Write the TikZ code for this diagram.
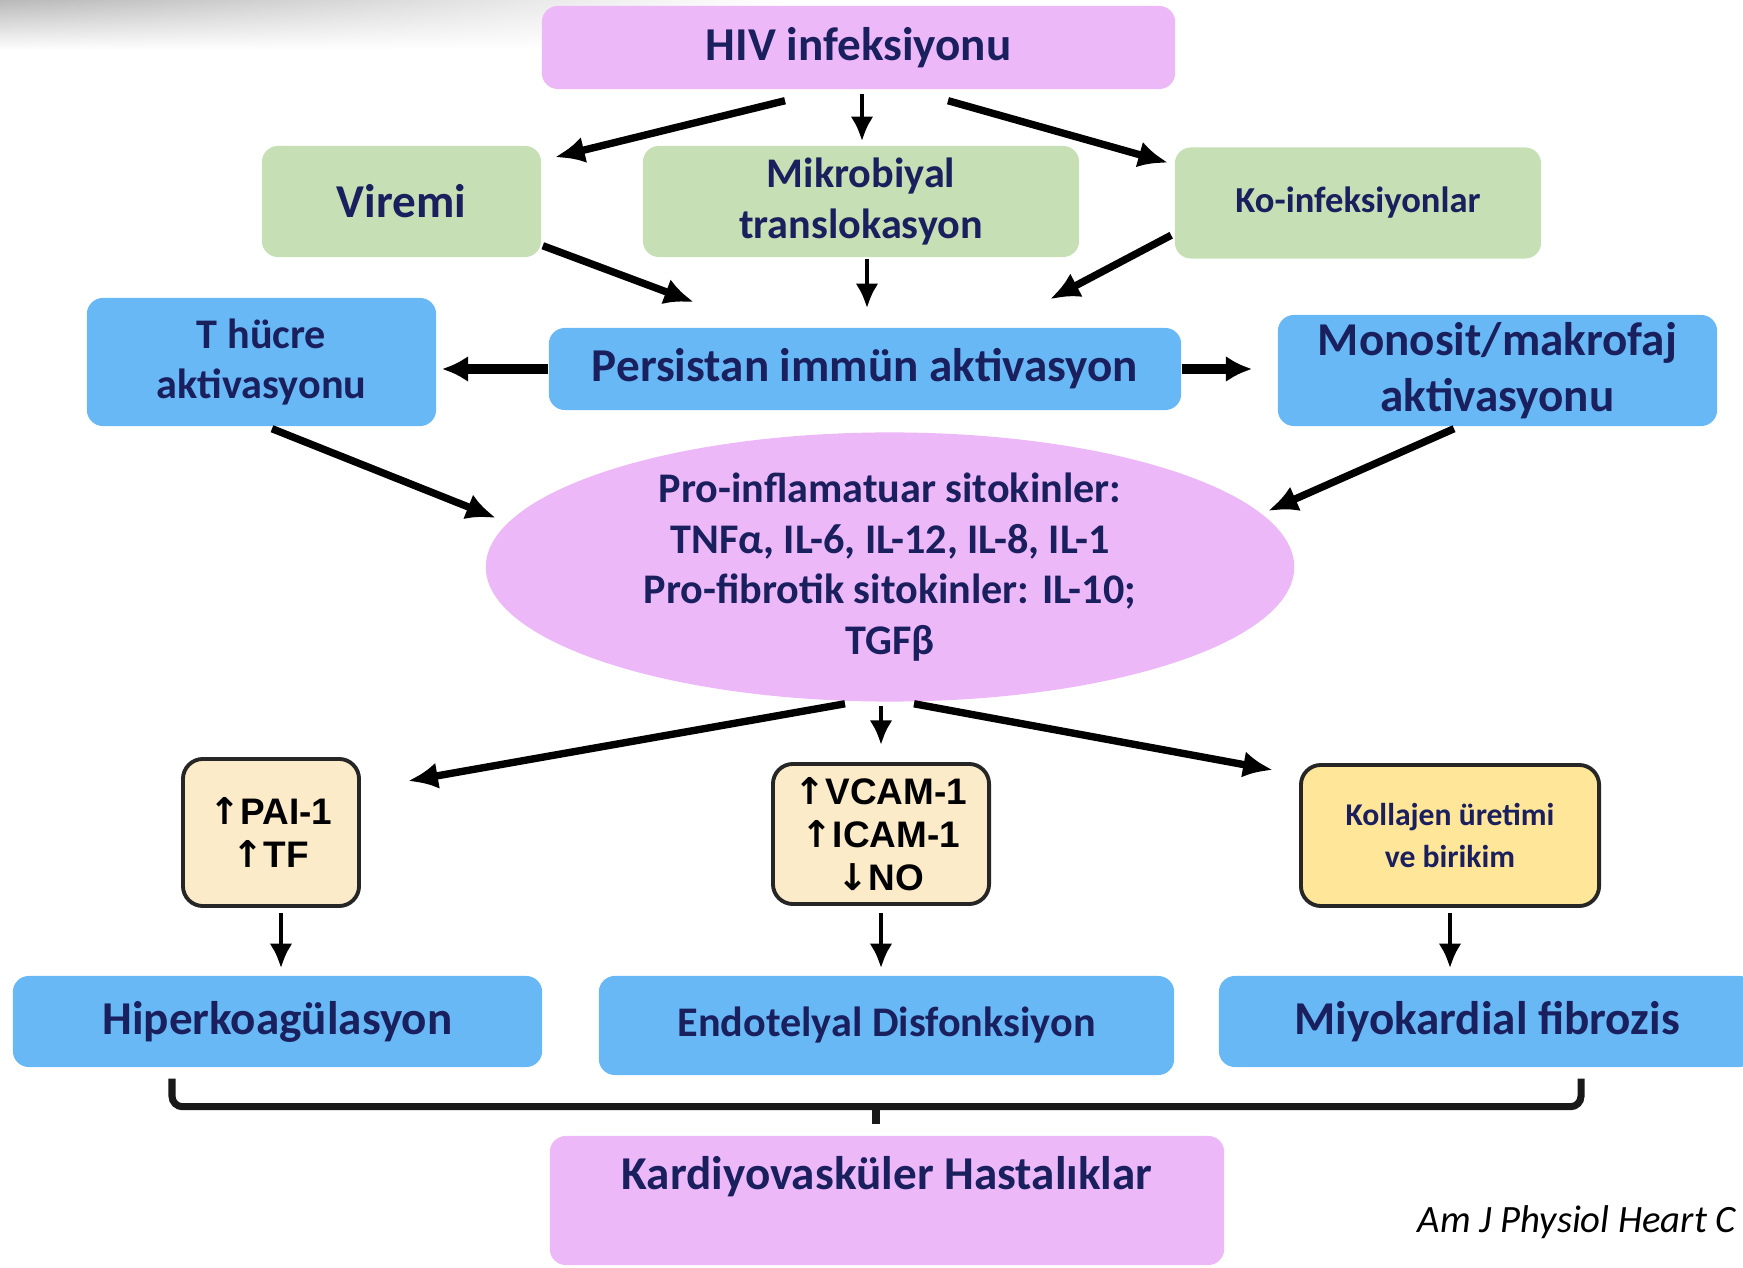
\documentclass[tikz,border=0pt]{standalone}
\usepackage{fontspec}
\setmainfont{Carlito}
\newfontfamily\arialfont{Liberation Sans}
\newfontfamily\arrowfont{DejaVu Sans}
\usetikzlibrary{arrows.meta, calc, shapes.geometric, fadings}
\definecolor{hivpink}{HTML}{EDB8F8}
\definecolor{leafgreen}{HTML}{C6DFB4}
\definecolor{skyblue}{HTML}{69B8F6}
\definecolor{navytext}{HTML}{1A1F5E}
\definecolor{creamfill}{HTML}{FCEBC8}
\definecolor{butter}{HTML}{FFE699}
\newcommand{\largelabel}{\fontsize{13.4pt}{15.8pt}\selectfont}
\newcommand{\mediumlabel}{\fontsize{12pt}{14.4pt}\selectfont}
\newcommand{\smalllabel}{\fontsize{10.4pt}{12.5pt}\selectfont}
\newcommand{\tinylabel}{\fontsize{9pt}{11.7pt}\selectfont}
\newcommand{\markerlabel}{\fontsize{10.5pt}{12.2pt}\selectfont}
\newcommand{\citelabel}{\fontsize{11pt}{13pt}\selectfont}
\tikzset{
    box/.style={rectangle, rounded corners=0.16cm, inner sep=0pt, align=center, text=navytext},
    pinkbox/.style={box, fill=hivpink},
    greenbox/.style={box, fill=leafgreen},
    bluebox/.style={box, fill=skyblue},
    markerbox/.style={rectangle, rounded corners=0.2cm, draw=black!85, line width=1.1pt,
        fill=creamfill, inner sep=0pt, align=center},
    txtL/.style={font=\bfseries\largelabel},
    txtM/.style={font=\bfseries\mediumlabel},
    fatarrow/.style={-{Latex[length=8.5pt,width=7.5pt]}, line width=2.1pt},
    widearrow/.style={-{Latex[length=7.5pt,width=7.5pt]}, line width=2.7pt},
    thinarrow/.style={-{Latex[length=7pt,width=6.5pt]}, line width=1.4pt},
    brace/.style={line width=2pt, draw=black!90, rounded corners=3pt}
}

\begin{document}
\begin{tikzpicture}[x=0.01cm, y=-0.01cm]
\useasboundingbox (0,0) rectangle (1743,1268);
% shadow top left
\shade[top color=gray!55, bottom color=white, path fading=east] (0,0) rectangle (780,50);

% top row
\node[pinkbox, txtL, minimum width=6.33cm, minimum height=0.83cm] (hiv) at (858.5,47.5) {HIV infeksiyonu};
\node[greenbox, txtL, minimum width=2.79cm, minimum height=1.11cm] (viremi) at (401.5,201.5) {Viremi};
\node[greenbox, txtM, minimum width=4.36cm, minimum height=1.11cm] (mikro) at (861,201.5) {Mikrobiyal\\translokasyon};
\node[greenbox, font=\bfseries\smalllabel, minimum width=3.66cm, minimum height=1.11cm] (koinf) at (1358,203) {Ko-infeksiyonlar};

% activation row
\node[bluebox, txtM, minimum width=3.49cm, minimum height=1.28cm] (thucre) at (261.5,362) {T hücre\\aktivasyonu};
\node[bluebox, txtL, minimum width=6.32cm, minimum height=0.82cm] (persist) at (865,369) {Persistan immün aktivasyon};
\node[bluebox, txtL, minimum width=4.39cm, minimum height=1.11cm] (monosit) at (1497.5,370.5) {Monosit/makrofaj\\aktivasyonu};

% cytokines
\node[ellipse, fill=hivpink, minimum width=8.08cm, minimum height=2.69cm, inner sep=0pt,
    align=center, text=navytext, txtM] (cyto) at (890,567)
    {Pro-inflamatuar sitokinler:\\TNFα, IL-6, IL-12, IL-8, IL-1\\Pro-fibrotik sitokinler: IL-10;\\TGFβ};

% markers
\node[markerbox, font=\arialfont\bfseries\markerlabel, minimum width=1.76cm, minimum height=1.47cm] (pai) at (271,832.5)
    {{\arrowfont\bfseries↑}PAI-1\\{\arrowfont\bfseries↑}TF};
\node[markerbox, font=\arialfont\bfseries\markerlabel, minimum width=2.16cm, minimum height=1.40cm] (vcam) at (881,834)
    {{\arrowfont\bfseries↑}VCAM-1\\{\arrowfont\bfseries↑}ICAM-1\\{\arrowfont\bfseries↓}NO};
\node[markerbox, fill=butter, text=navytext, font=\bfseries\tinylabel, minimum width=2.98cm, minimum height=1.41cm] (koll) at (1450,835.5)
    {Kollajen üretimi\\ve birikim};

% outcomes
\node[bluebox, txtL, minimum width=5.29cm, minimum height=0.91cm] (hiper) at (277.5,1021.5) {Hiperkoagülasyon};
\node[bluebox, txtM, minimum width=5.75cm, minimum height=0.99cm] (endo) at (886.5,1025.5) {Endotelyal Disfonksiyon};
\node[bluebox, txtL, minimum width=5.36cm, minimum height=0.91cm] (miyo) at (1487,1021.5) {Miyokardial fibrozis};
\node[pinkbox, txtL, minimum width=6.74cm, text height=0.44cm, text depth=0.65cm, inner ysep=0.1cm] (kardio) at (887,1200.5)
    {Kardiyovasküler Hastalıklar};

% source
\node[anchor=base west, font=\itshape\citelabel, text=black, inner sep=0pt] (cite) at (1417,1232) {Am J Physiol Heart C};

% arrows
\draw[fatarrow] ($(hiv.south)+(-73.5,11)$) -- ($(viremi.north east)+(13,12)$);
\draw[thinarrow] ($(hiv.south)+(3.5,4)$) -- ($(mikro.north)+(1,-4)$);
\draw[fatarrow] ($(hiv.south)+(89.5,11)$) -- ($(koinf.north west)+(-6,16)$);
\draw[fatarrow] ($(viremi.south east)+(1,-12)$) -- ($(persist.north west)+(146,-25)$);
\draw[thinarrow] ($(mikro.south)+(6,1)$) -- ($(persist.north)+(2,-19)$);
\draw[fatarrow] ($(koinf.south west)+(-3,-24)$) -- ($(persist.north east)+(-132,-28)$);
\draw[widearrow] (persist.west) -- ($(thucre.east)+(5,7)$);
\draw[widearrow] (persist.east) -- ($(monosit.west)+(-25,-1.5)$);
\draw[fatarrow] ($(thucre.south)+(10.5,2)$) -- ($(cyto.west)+(11,-49)$);
\draw[fatarrow] ($(monosit.south)+(-43.5,2)$) -- ($(cyto.east)+(-27,-56)$);
\draw[fatarrow] ($(cyto.south)+(-45,1.5)$) -- ($(pai.east)+(47,-51.5)$);
\draw[thinarrow] ($(cyto.south)+(-9,3.5)$) -- ($(vcam.north)+(0,-17)$);
\draw[fatarrow] ($(cyto.south)+(24,1.5)$) -- ($(koll.west)+(-26,-65.5)$);
\draw[thinarrow] ($(pai.south)+(10,5)$) -- ($(hiper.north)+(3.5,-7)$);
\draw[thinarrow] ($(vcam.south)+(0,7)$) -- ($(endo.north)+(-5.5,-7)$);
\draw[thinarrow] ($(koll.south)+(0,5)$) -- ($(miyo.north)+(-37,-7)$);

% bracket
\coordinate (brL) at ($(hiper.south)+(-105.5,11)$);
\coordinate (brR) at ($(miyo.south)+(94,11)$);
\coordinate (brM) at ($(kardio.north)+(-11,-11)$);
\draw[brace] (brL) -- ++(0,28) -| (brR);
\draw[brace] (brM) -- ++(0,-19);
\end{tikzpicture}
\end{document}
